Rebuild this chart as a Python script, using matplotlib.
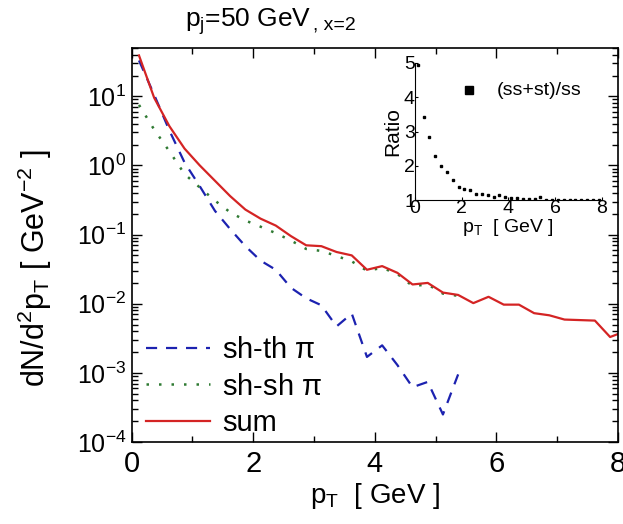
import numpy as np
import matplotlib
matplotlib.use('Agg')
import matplotlib.pyplot as plt
from matplotlib.ticker import MultipleLocator, LogLocator, NullFormatter

plt.rcParams['font.family'] = ['Liberation Sans', 'DejaVu Sans']
plt.rcParams['mathtext.default'] = 'regular'

# pT grid (GeV)
pt = [0.12, 0.37, 0.62, 0.87, 1.12, 1.37, 1.62, 1.87, 2.12, 2.37, 2.62,
      2.87, 3.12, 3.37, 3.62, 3.87, 4.12, 4.37, 4.62, 4.87, 5.12, 5.37,
      5.62, 5.87, 6.12, 6.37, 6.62, 6.87, 7.12, 7.37, 7.62, 7.87, 8.12]

# sum of both
sum_vals = [39, 9.5, 3.7, 1.75, 1.0, 0.6, 0.36, 0.23, 0.17, 0.135, 0.095,
            0.07, 0.068, 0.056, 0.05, 0.031, 0.035, 0.028, 0.019, 0.020,
            0.0145, 0.0134, 0.0102, 0.0126, 0.0097, 0.0097, 0.0073, 0.0068,
            0.0059, 0.0058, 0.0057, 0.0033, 0.0040]

# shower-shower (stops at 5.37)
shsh_vals = [7.5, 3.3, 1.6, 0.75, 0.48, 0.31, 0.21, 0.16, 0.13, 0.105,
             0.082, 0.062, 0.058, 0.049, 0.041, 0.030, 0.033, 0.027, 0.018,
             0.019, 0.014, 0.013]

# shower-thermal (stops at 5.37)
shth_vals = [33, 10.5, 3.2, 1.1, 0.5, 0.22, 0.12, 0.068, 0.042, 0.031,
             0.017, 0.012, 0.0095, 0.0047, 0.0072, 0.0017, 0.0025, 0.0013,
             0.00062, 0.00074, 0.00025, 0.00095]

# inset ratio (ss+st)/ss
ratio_vals = [4.94, 3.41, 2.83, 2.29, 1.99, 1.81, 1.60, 1.39, 1.32, 1.29,
              1.18, 1.18, 1.16, 1.10, 1.16, 1.09, 1.07, 1.05, 1.03, 1.04,
              1.02, 1.08, 1.01, 1.01, 1.01, 1.01, 1.01, 1.01, 1.01, 1.01,
              1.01, 1.01]

red = '#d42424'
blue = '#1c22b0'
green = '#2f7a33'

fig = plt.figure(figsize=(6.23, 5.24), dpi=100)
ax = fig.add_axes([0.2114, 0.1565, 0.7806, 0.7519])

ax.plot(pt[:len(shth_vals)], shth_vals, color=blue, lw=1.6, ls=(0, (5, 4)),
        label=r'sh-th $\pi$')
ax.plot(pt[:len(shsh_vals)], shsh_vals, color=green, lw=1.8, ls=(0, (1, 4)),
        label=r'sh-sh $\pi$')
ax.plot(pt, sum_vals, color=red, lw=1.6, label='sum')

ax.set_yscale('log')
ax.set_xlim(0, 8)
ax.set_ylim(1e-4, 50)
ax.xaxis.set_major_locator(MultipleLocator(2))
ax.xaxis.set_minor_locator(MultipleLocator(1))
ax.yaxis.set_major_locator(LogLocator(base=10, numticks=10))
ax.yaxis.set_minor_locator(LogLocator(base=10, subs=np.arange(2, 10), numticks=10))
ax.yaxis.set_minor_formatter(NullFormatter())
ax.tick_params(which='both', direction='in', top=True, right=True, width=1)
ax.tick_params(which='major', length=7)
ax.tick_params(which='minor', length=4)
ax.tick_params(axis='x', labelsize=21, pad=6)
ax.tick_params(axis='y', labelsize=18, pad=4)
for s in ax.spines.values():
    s.set_linewidth(1.2)

ax.set_xlabel(r'p$_T$  [ GeV ]', fontsize=20, labelpad=2)
ax.set_ylabel(r'dN/d$^2$p$_T$ [ GeV$^{-2}$ ]', fontsize=22, labelpad=6)
ax.yaxis.set_label_coords(-0.16, 0.44)

ax.legend(loc='lower left', frameon=False, fontsize=21, handlelength=2.2,
          handletextpad=0.4, labelspacing=0.3, borderaxespad=0.1,
          bbox_to_anchor=(0.0, -0.025))

fig.text(0.500, 0.958, r'p$_j$=50 GeV', fontsize=19, ha='right', va='center')
fig.text(0.502, 0.953, ', x=2', fontsize=14, ha='left', va='center')

# inset
ins = fig.add_axes([0.666, 0.618, 0.300, 0.262])
ins.set_facecolor('white')
ins.plot(pt[:len(ratio_vals)], ratio_vals, 's', color='black', ms=1.6, ls='none')
ins.set_xlim(0, 8)
ins.set_ylim(1, 5)
ins.xaxis.set_major_locator(MultipleLocator(2))
ins.yaxis.set_major_locator(MultipleLocator(1))
ins.spines['top'].set_visible(False)
ins.spines['right'].set_visible(False)
ins.tick_params(direction='in', length=2, labelsize=14, pad=0)
ins.set_xlabel(r'p$_T$  [ GeV ]', fontsize=14, labelpad=0)
ins.set_ylabel('Ratio', fontsize=15, labelpad=1)
ins.plot([2.3], [4.2], 's', color='black', ms=6)
ins.text(3.5, 4.2, '(ss+st)/ss', fontsize=14, va='center', ha='left')

fig.savefig('out.png', dpi=100)
